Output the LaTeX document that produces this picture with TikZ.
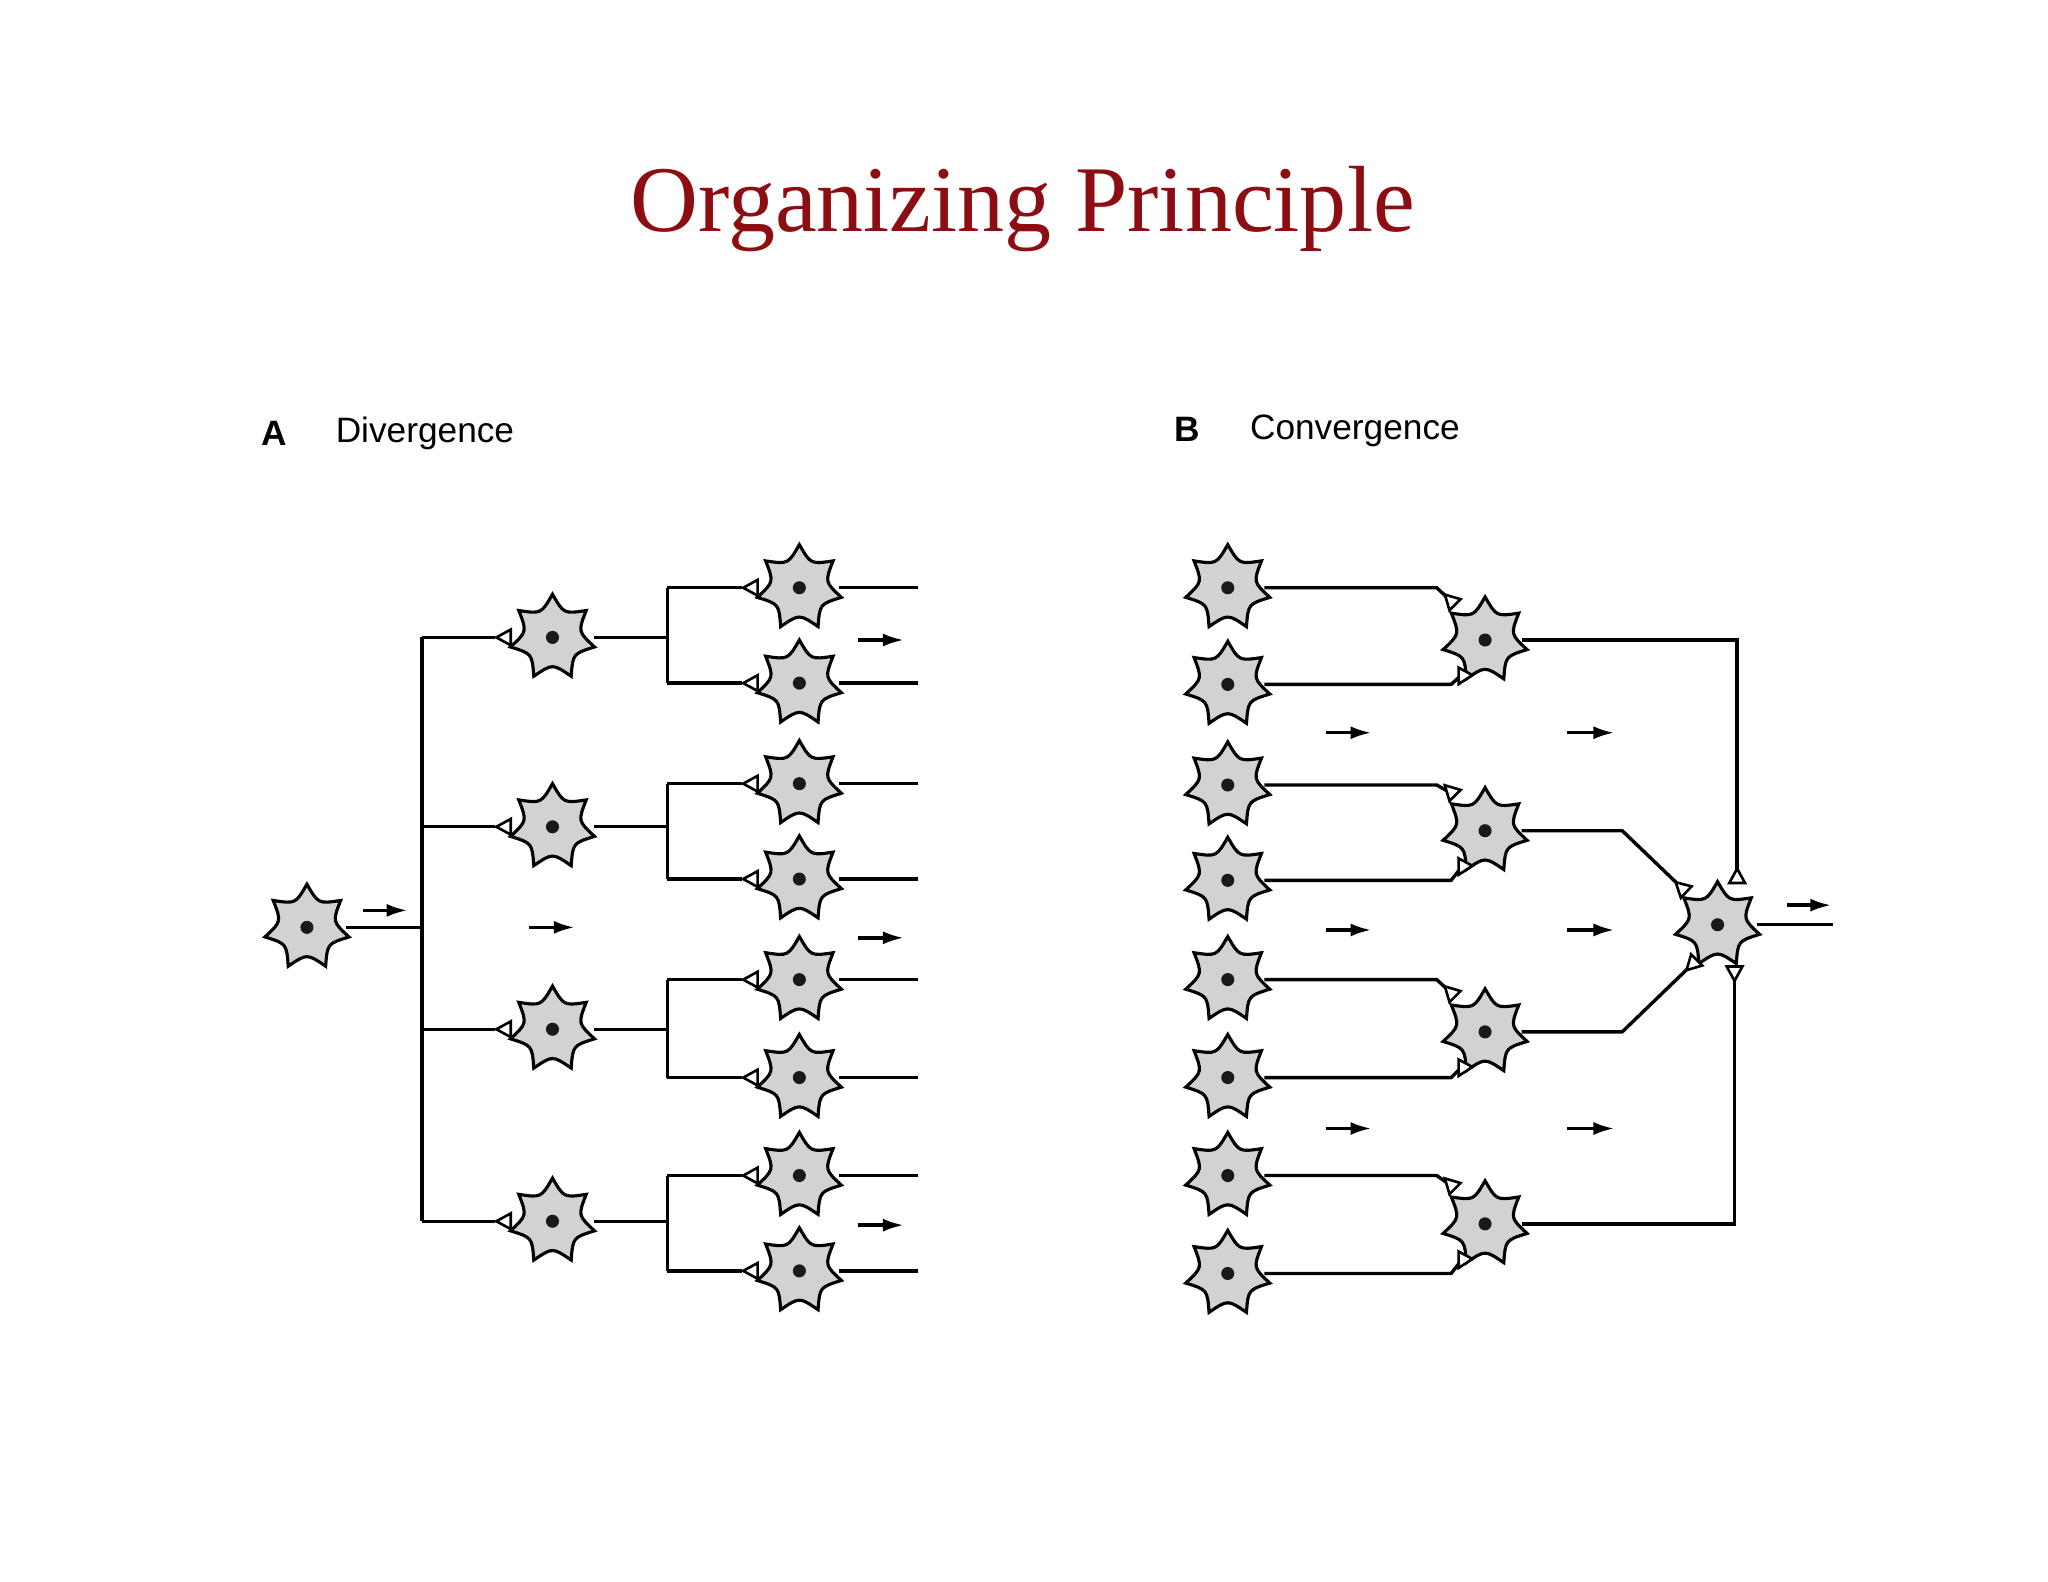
\documentclass[tikz,border=0pt]{standalone}
\usepackage{fontspec}
\setmainfont{Liberation Serif}
\setsansfont{Liberation Sans}
\usetikzlibrary{calc,arrows.meta}
\definecolor{titlered}{RGB}{140,14,18}
\tikzset{x=0.5pt,y=-0.5pt,
  wire/.style={line width=1.3pt,line join=miter},
  pics/neuron/.style={code={
    \draw[line width=1.2pt,fill=gray!35] (-90:33) \foreach \i in {1,...,7}{ .. controls ({-90+(\i-0.5)*360/7}:20) .. ({-90+\i*360/7}:33)} -- cycle;
    \fill[gray!20!black] (0,0) circle (5);}},
  pics/syn/.style={code={
    \draw[line width=1pt,fill=white] (-11,0) -- (0,-6) -- (0,6) -- cycle;}},
  flow/.style={line width=1.3pt,-{Latex[length=8pt,width=5pt]}}
}
\begin{document}
\begin{tikzpicture}
\useasboundingbox[fill=white] (0,0) rectangle (1568,1211);
\node[text=titlered,font=\fontsize{36}{42}\selectfont] (title) at (783,160) {Organizing Principle};
\node[font=\sffamily\bfseries\fontsize{13.5}{16}\selectfont] (la) at (210,332) {A};
\node[anchor=west,font=\sffamily\fontsize{13.5}{16}\selectfont] (lat) at (250,332) {Divergence};
\node[font=\sffamily\bfseries\fontsize{13.5}{16}\selectfont] (lb) at (909,329) {B};
\node[anchor=west,font=\sffamily\fontsize{13.5}{16}\selectfont] (lbt) at (950,330) {Convergence};

% ---------- A: divergence ----------
\coordinate (a0) at (235,710);
\coordinate (bus) at (323,710);
\draw[wire] (a0) ++(30,0) -- (bus);
\draw[wire] (323,488) -- (323,935);
\draw[flow] (278,697) -- (312,697);
\draw[flow] (405,710) -- (440,710);
\foreach \k/\y/\ya/\yb in {1/488/450/523, 2/633/600/673, 3/788/750/825, 4/935/900/973}{
  \coordinate (m\k) at (423,\y);
  \draw[wire] (323,\y) -- (379,\y);
  \pic at (391,\y) {syn};
  \draw[wire] (455,\y) -- (511,\y);
  \draw[wire] (511,\ya) -- (511,\yb);
  \foreach \yy in {\ya,\yb}{
    \draw[wire] (511,\yy) -- (568,\yy);
    \pic at (580,\yy) {syn};
    \draw[wire] (642,\yy) -- (703,\yy);
    \pic at (612,\yy) {neuron};
  }
  \pic at (m\k) {neuron};
}
\pic at (a0) {neuron};
\foreach \y in {490,718,938} \draw[flow] (657,\y) -- (692,\y);

% ---------- B: convergence ----------
\foreach \k/\y in {1/490,2/636,3/790,4/937}{
  \coordinate (c\k) at (1137,\y);
}
\coordinate (f) at (1315,708);
\foreach \k/\ya/\yb in {1/450/524,2/601/674,3/750/825,4/900/975}{
  \draw[wire] (968,\ya) -- (1100,\ya) -- ($(c\k)+(-23,-27)$);
  \draw[wire] (968,\yb) -- (1111,\yb) -- ($(c\k)+(-15,24)$);
  \pic at (940,\ya) {neuron};
  \pic at (940,\yb) {neuron};
}
\draw[wire] ($(c1)+(28,0)$) -- (1330,490) -- (1330,676);
\draw[wire] ($(c2)+(28,0)$) -- (1242,636) -- (1291,683);
\draw[wire] ($(c3)+(28,0)$) -- (1242,790) -- (1299,735);
\draw[wire] ($(c4)+(28,0)$) -- (1328,937) -- (1328,740);
\draw[wire] ($(f)+(30,0)$) -- (1403,708);
\foreach \k in {1,...,4} \pic at (c\k) {neuron};
\pic at (f) {neuron};
\foreach \k in {1,...,4}{
  \pic[rotate=-45] at ($(c\k)+(-23,-27)$) {syn};
  \pic[rotate=62] at ($(c\k)+(-15,24)$) {syn};
}
\pic[rotate=-90] at (1330,676) {syn};
\pic[rotate=-43] at (1291,683) {syn};
\pic[rotate=45] at (1299,735) {syn};
\pic[rotate=90] at (1328,740) {syn};
\draw[flow] (1368,693) -- (1402,693);
\foreach \y in {561,712,864}{
  \draw[flow] (1015,\y) -- (1050,\y);
  \draw[flow] (1200,\y) -- (1236,\y);
}
\end{tikzpicture}
\end{document}
